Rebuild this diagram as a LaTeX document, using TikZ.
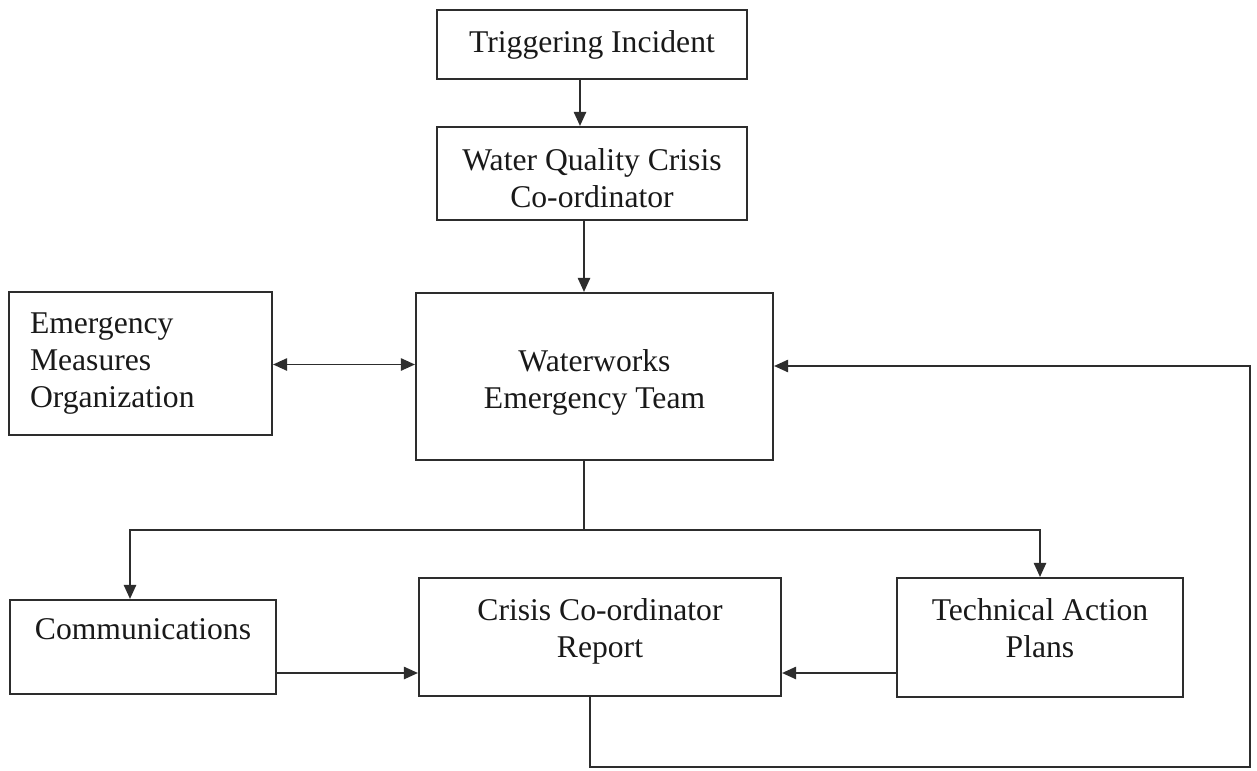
\documentclass[tikz,border=0pt]{standalone}
\usepackage{fontspec}
\setmainfont{Liberation Serif}
\usepackage{tikz}
\usetikzlibrary{arrows.meta, calc, backgrounds}
\definecolor{paperbg}{RGB}{255,255,255}
\definecolor{inkcol}{RGB}{45,45,45}
\definecolor{textcol}{RGB}{25,25,25}

\begin{document}
\begin{tikzpicture}[
    background rectangle/.style={fill=paperbg},
    show background rectangle,
    box/.style={draw=inkcol, line width=1.2pt, rectangle, align=center,
                text=textcol, font=\fontsize{18}{21}\selectfont, inner sep=0pt},
    lift/.style={text height=#1, text depth=0.1cm},
    arr/.style={-{Triangle[length=8pt, width=7pt]}, line width=1pt, draw=inkcol},
    twoarr/.style={{Triangle[length=8pt, width=7pt]}-{Triangle[length=8pt, width=7pt]},
                line width=1pt, draw=inkcol},
    link/.style={line width=1pt, draw=inkcol},
]

\path[use as bounding box] (0,0) rectangle (25.14,15.4);

% ════════════════════════════════════════════════════════
% 1. TOP CHAIN
% ════════════════════════════════════════════════════════
\node[box, minimum width=6.2cm, minimum height=1.38cm] (trig) at (11.84, 14.51)
    {Triggering Incident};
\node[box, lift=1.46cm, minimum width=6.2cm, minimum height=1.86cm] (wqcc) at (11.84, 11.93)
    {Water Quality Crisis\\Co-ordinator};
\node[box, lift=1.36cm, minimum width=7.14cm, minimum height=3.34cm] (wet) at (11.89, 7.87)
    {Waterworks\\Emergency Team};

% Side box (left aligned text)
\node[box, align=left, inner xsep=0.42cm, text width=4.42cm,
      minimum height=2.86cm] (emo) at (2.81, 8.13)
    {Emergency\\Measures\\Organization};

\draw[arr] ([xshift=-0.24cm]trig.south) -- ([xshift=-0.24cm]trig.south |- wqcc.north);
\draw[arr] ([xshift=-0.16cm]wqcc.south) -- ([xshift=-0.16cm]wqcc.south |- wet.north);
\draw[twoarr] ([yshift=-0.02cm]emo.east) -- ([yshift=-0.02cm]emo.east -| wet.west);

% ════════════════════════════════════════════════════════
% 2. BOTTOM ROW
% ════════════════════════════════════════════════════════
\node[box, minimum width=5.32cm, minimum height=1.88cm] (comm) at (2.86, 2.46)
    {Communications\\\mbox{}};
\node[box, lift=0.90cm, minimum width=7.24cm, minimum height=2.36cm] (ccr) at (12.0, 2.66)
    {Crisis Co-ordinator\\Report};
\node[box, lift=0.88cm, minimum width=5.72cm, minimum height=2.38cm] (tap) at (20.8, 2.65)
    {Technical Action\\Plans};

% ── Split below the team box
\coordinate (split) at (11.68, 4.8);
\draw[link] (wet.south -| split) -- (split);
\draw[arr] (split) -| ([xshift=-0.26cm]comm.north);
\draw[arr] (split) -| (tap.north);

% ── Into the report
\draw[arr] ([yshift=-0.52cm]comm.east) -- ([yshift=-0.52cm]comm.east -| ccr.west);
\draw[arr] ([yshift=-0.71cm]tap.west) -- ([yshift=-0.71cm]tap.west -| ccr.east);

% ── Feedback loop back to the team
\coordinate (loopcorner) at (25.0, 0.06);
\draw[arr] ([xshift=-0.2cm]ccr.south) |- (loopcorner) |- ([yshift=0.21cm]wet.east);

\end{tikzpicture}
\end{document}
